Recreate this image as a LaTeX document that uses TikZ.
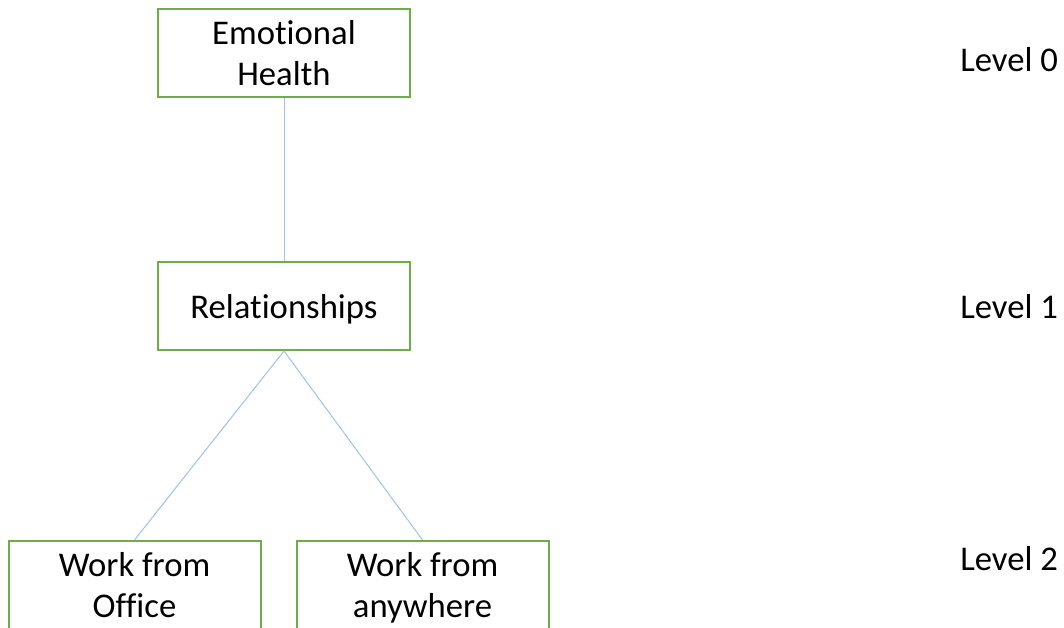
\documentclass[tikz,border=0pt]{standalone}
\usepackage{fontspec}
\setmainfont[Ligatures=NoCommon]{Carlito}
\usepackage{tikz}
\usetikzlibrary{positioning}
\definecolor{boxgreen}{RGB}{112, 173, 71}
\definecolor{linkblue}{RGB}{157, 195, 230}
\newcommand{\linestrut}{\rule[-6pt]{0pt}{30pt}}

\begin{document}
\begin{tikzpicture}[
    x=0.75pt, y=-0.75pt,
    topic/.style={rectangle, draw=boxgreen, line width=1.5pt, minimum width=189pt, minimum height=66pt, align=center, inner sep=0pt, font=\fontsize{26}{31}\selectfont},
    levellabel/.style={anchor=west, inner sep=0pt, font=\fontsize{26}{31}\selectfont},
    link/.style={draw=linkblue, line width=0.75pt}
]
\useasboundingbox (0,0) rectangle (1064,628);

\node[topic] (health) at (284,53) {Emotional\linestrut\\Health\linestrut};
\node[topic] (relations) at (284,306) {Relationships\linestrut};
\node[topic] (office) at (134.5,585) {Work from\linestrut\\Office\linestrut};
\node[topic] (anywhere) at (422.5,585) {Work from\linestrut\\anywhere\linestrut};

\draw[link] (health) -- (relations);
\draw[link] (relations.south) -- (office.north);
\draw[link] (relations.south) -- (anywhere.north);

% Levels
\node[levellabel] (lvl0) at (960,60) {Level 0};
\node[levellabel] (lvl1) at (960,307) {Level 1};
\node[levellabel] (lvl2) at (960,559) {Level 2};

\end{tikzpicture}
\end{document}
